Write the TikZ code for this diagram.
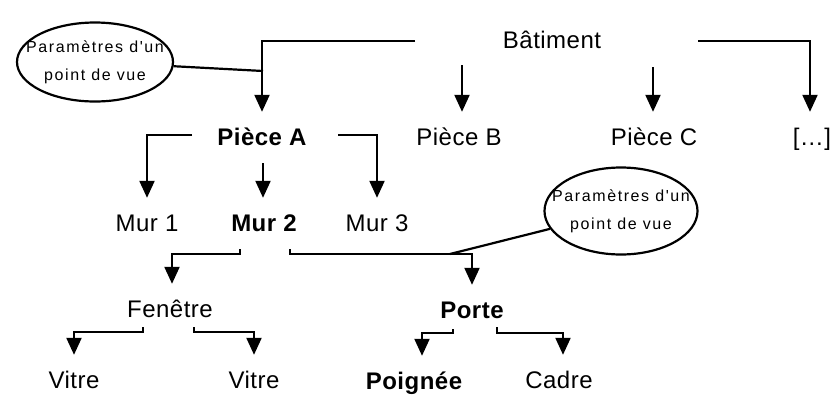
\documentclass[tikz,border=0pt]{standalone}
\usepackage{fontspec}
\setmainfont{Liberation Sans}[LetterSpace=2]
\newfontfamily\notefont{Liberation Sans}[LetterSpace=10]
\usetikzlibrary{arrows.meta,shapes.geometric}

\tikzset{
  item/.style={inner sep=0pt, text height=17pt, text depth=0pt, anchor=base,
    font=\fontsize{24}{28}\selectfont},
  onpath/.style={item, font=\fontsize{24}{28}\selectfont\bfseries},
  note/.style={ellipse, draw, line width=2.2pt, inner xsep=-30pt, inner ysep=-10pt,
    align=center, font=\notefont\fontsize{16}{28}\selectfont},
  link/.style={line width=2.2pt, -{Triangle[width=15pt,length=17pt]}, shorten >=16pt},
  tie/.style={line width=2.2pt},
}

\begin{document}
\begin{tikzpicture}[x=1pt,y=-1pt]
  \useasboundingbox (0,0) rectangle (834,394);

  % niveaux de la decomposition
  \node[item]   (bat) at (552,48) {Bâtiment};
  \node[onpath] (pa)  at (262,145) {Pièce A};
  \node[item]   (pb)  at (459,145) {Pièce B};
  \node[item]   (pc)  at (654,145) {Pièce C};
  \node[item]   (pd)  at (812,145) {[\dots]};
  \node[item]   (m1)  at (147,231) {Mur 1};
  \node[onpath] (m2)  at (264,231) {Mur 2};
  \node[item]   (m3)  at (377,231) {Mur 3};
  \node[item]   (fen) at (170,317) {Fenêtre};
  \node[onpath] (por) at (472,318) {Porte};
  \node[item]   (v1)  at (74,388) {Vitre};
  \node[item]   (v2)  at (254,388) {Vitre};
  \node[onpath] (poi) at (414,389) {Poignée};
  \node[item]   (cad) at (559,388) {Cadre};

  % bulles des points de vue
  \node[note, minimum width=156, minimum height=79] (pv1) at (95,62)
    {Paramètres d'un\\point de vue};
  \node[note, minimum width=153, minimum height=87] (pv2) at (621,211)
    {Paramètres d'un\\point de vue};

  % departs des fleches
  \coordinate (batL) at (415,41);
  \coordinate (batB) at (462,65);
  \coordinate (batC) at (653,67);
  \coordinate (batR) at (698,41);
  \coordinate (paL)  at (192,135);
  \coordinate (paM)  at (263,163);
  \coordinate (paR)  at (338,135);
  \coordinate (m2L)  at (240,249);
  \coordinate (m2R)  at (290,249);
  \coordinate (fenL) at (143,327);
  \coordinate (fenR) at (194,327);
  \coordinate (porL) at (453,329);
  \coordinate (porR) at (497,327);
  \coordinate (jA)   at (263,71);
  \coordinate (jP)   at (450,254);

  \draw[link] (batL) -| (pa.north);
  \draw[link] (batB) -- (batB |- pb.north);
  \draw[link] (batC) -- (batC |- pc.north);
  \draw[link] (batR) -| ([xshift=-2pt]pd.north);

  \draw[link] (paL) -| (m1.north);
  \draw[link] (paM) -- (paM |- m2.north);
  \draw[link] (paR) -| (m3.north);

  \draw[link] (m2L) -- ++(0,5) -| ([xshift=2pt]fen.north);
  \draw[link] (m2R) -- ++(0,5) -| (por.north);

  \draw[link] (fenL) -- ++(0,5) -| (v1.north);
  \draw[link] (fenR) -- ++(0,5) -| (v2.north);
  \draw[link] (porL) -- ++(0,4) -| ([xshift=8pt]poi.north);
  \draw[link] (porR) -- ++(0,6) -| ([xshift=4pt]cad.north);

  \draw[tie] (pv1) -- (jA);
  \draw[tie] (pv2) -- (jP);
\end{tikzpicture}
\end{document}
